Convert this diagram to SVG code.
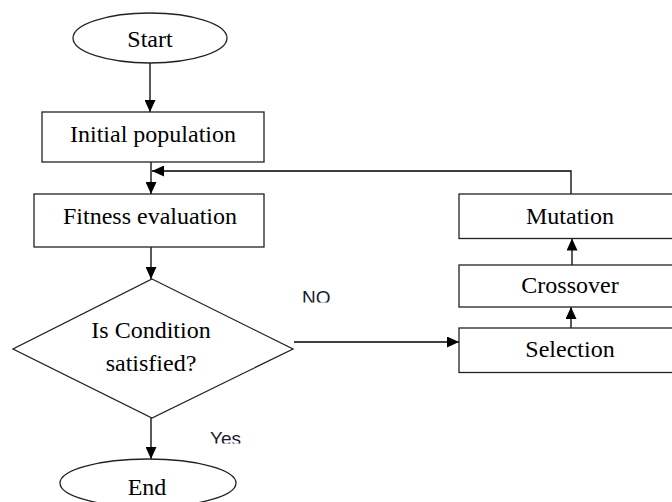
<svg xmlns="http://www.w3.org/2000/svg" width="672" height="502" viewBox="0 0 672 502">
<defs>
<style>
.shape{fill:#fff;stroke:#222;stroke-width:1.3}
.line{fill:none;stroke:#000;stroke-width:1.3}
.t{font-family:"Liberation Serif","Times New Roman",serif;font-size:24px;fill:#000;text-anchor:middle}
.s{font-family:"Liberation Sans",Arial,sans-serif;font-size:19px;fill:#1a1a2e}
</style>
<marker id="ah" viewBox="0 0 12 11" refX="12" refY="5.5" markerWidth="12" markerHeight="11" markerUnits="userSpaceOnUse" orient="auto">
<path d="M0,0 L12,5.5 L0,11 Z" fill="#000"/>
</marker>
<clipPath id="clipNo"><rect x="290" y="280" width="60" height="22.5"/></clipPath>
<clipPath id="clipYes"><rect x="200" y="420" width="60" height="23.5"/></clipPath>
</defs>
<g id="connectors">
<line class="line" x1="150" y1="63" x2="150" y2="112" marker-end="url(#ah)"/>
<line class="line" x1="151" y1="162" x2="151" y2="194" marker-end="url(#ah)"/>
<line class="line" x1="151" y1="247" x2="151" y2="279" marker-end="url(#ah)"/>
<line class="line" x1="151" y1="418" x2="151" y2="459" marker-end="url(#ah)"/>
<line class="line" x1="294" y1="342" x2="459" y2="342" marker-end="url(#ah)"/>
<line class="line" x1="571" y1="328" x2="571" y2="307" marker-end="url(#ah)"/>
<line class="line" x1="572" y1="265" x2="572" y2="238.5" marker-end="url(#ah)"/>
<polyline class="line" points="571,194 571,171 152,171" marker-end="url(#ah)"/>
</g>
<g id="start">
<ellipse class="shape" cx="150" cy="38" rx="77" ry="25"/>
<text class="t" x="150" y="46.5">Start</text>
</g>
<g id="initial">
<rect class="shape" x="42" y="112" width="222" height="50"/>
<text class="t" x="153" y="142">Initial population</text>
</g>
<g id="fitness">
<rect class="shape" x="34" y="194" width="230" height="53"/>
<text class="t" x="150" y="224">Fitness evaluation</text>
</g>
<g id="decision">
<polygon class="shape" points="152,279 293,349 152,418 13,349"/>
<text class="t" x="151" y="338">Is Condition</text>
<text class="t" x="151" y="371">satisfied?</text>
</g>
<g id="end">
<ellipse class="shape" cx="148" cy="483" rx="88" ry="24"/>
<text class="t" x="147" y="495">End</text>
</g>
<g id="mutation">
<rect class="shape" x="459" y="194" width="230" height="44.5"/>
<text class="t" x="570" y="224">Mutation</text>
</g>
<g id="crossover">
<rect class="shape" x="459" y="265" width="230" height="42"/>
<text class="t" x="570" y="293">Crossover</text>
</g>
<g id="selection">
<rect class="shape" x="459" y="328" width="230" height="44.5"/>
<text class="t" x="570" y="357">Selection</text>
</g>
<g id="labels">
<text class="s" x="302" y="304" clip-path="url(#clipNo)">NO</text>
<text class="s" x="210" y="445" clip-path="url(#clipYes)">Yes</text>
</g>
</svg>
